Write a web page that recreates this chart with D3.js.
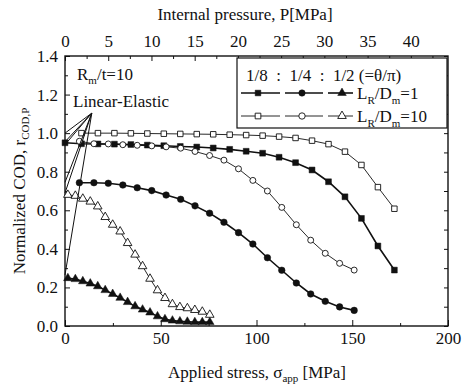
<!DOCTYPE html>
<html>
<head>
<meta charset="utf-8">
<script src="https://cdn.jsdelivr.net/npm/d3@7"></script>
<style>
  body { margin: 0; background: #fff; }
  text { font-family: "Liberation Serif", "Times New Roman", serif; fill: #111; }
</style>
</head>
<body>
<script>
// Chart data
//= ================================
let squareStress = [0, 8.6, 17.2, 25.8, 34.4, 43, 51.6, 60.2, 68.8, 77.4, 86, 94.6, 103.2, 111.8, 120.4, 129, 137.6, 146.2, 154.8, 163.4, 172];
let squareL1 = [0.95, 0.945, 0.944, 0.943, 0.941, 0.938, 0.935, 0.931, 0.928, 0.923, 0.916, 0.906, 0.896, 0.875, 0.847, 0.809, 0.748, 0.67, 0.558, 0.415, 0.29];
let squareStress10 = [8.6, 17.2, 25.8, 34.4, 43, 51.6, 60.2, 68.8, 77.4, 86, 94.6, 103.2, 111.8, 120.4, 129, 137.6, 146.2, 154.8, 163.4, 172];
let squareL10 = [1.0, 1.0, 1.0, 0.999, 0.998, 0.997, 0.996, 0.995, 0.994, 0.992, 0.99, 0.987, 0.982, 0.975, 0.961, 0.943, 0.904, 0.835, 0.72, 0.608];

let circleStress = [7.5, 15.1, 22.6, 30.2, 37.7, 45.3, 52.8, 60.4, 67.9, 75.5, 83, 90.6, 98.1, 105.7, 113.2, 120.8, 128.3, 135.9, 143.4, 151];
let circleL1 = [0.743, 0.743, 0.74, 0.731, 0.717, 0.702, 0.679, 0.657, 0.623, 0.585, 0.538, 0.484, 0.425, 0.354, 0.289, 0.223, 0.166, 0.128, 0.099, 0.081];
let circleL10 = [0.958, 0.945, 0.944, 0.94, 0.937, 0.934, 0.929, 0.922, 0.905, 0.884, 0.86, 0.815, 0.755, 0.7, 0.615, 0.525, 0.445, 0.377, 0.325, 0.29];

let triangleStress = [1.5, 5.4, 9.3, 13.2, 17.1, 21, 24.9, 28.8, 32.7, 36.6, 40.5, 44.4, 48.3, 52.2, 56.1, 60, 63.9, 67.8, 71.7, 75.6];
let triangleL1 = [0.248, 0.243, 0.232, 0.22, 0.206, 0.186, 0.166, 0.146, 0.124, 0.102, 0.085, 0.07, 0.05, 0.035, 0.028, 0.024, 0.022, 0.02, 0.02, 0.02];
let triangleL10 = [0.68, 0.675, 0.66, 0.645, 0.62, 0.565, 0.525, 0.49, 0.43, 0.37, 0.31, 0.245, 0.185, 0.145, 0.113, 0.098, 0.092, 0.083, 0.074, 0.058];

// linear-elastic values on the y axis, and where the pointer lines meet
let elasticValues = [1.0, 0.955, 0.94, 0.745, 0.69, 0.265];
let elasticNode = [14, 1.104];

let stressTicks = [0, 50, 100, 150, 200];
let pressureTicks = [0, 5, 10, 15, 20, 25, 30, 35, 40];
let codTicks = [0, 0.2, 0.4, 0.6, 0.8, 1.0, 1.2, 1.4];

// Set up our chart
//= ================================
let svgWidth = 463;
let svgHeight = 389;
let margin = { top: 56, right: 15, bottom: 63, left: 65 };
let width = svgWidth - margin.left - margin.right;
let height = svgHeight - margin.top - margin.bottom;

let svg = d3.select("body")
  .append("svg")
  .attr("width", svgWidth)
  .attr("height", svgHeight);
let chartGroup = svg.append("g")
  .attr("transform", `translate(${margin.left}, ${margin.top})`);

// Scales
//= ================================
let xScale = d3.scaleLinear().domain([0, 200]).range([0, width]);
let pScale = d3.scaleLinear().domain([0, 44.3]).range([0, width]);
let yScale = d3.scaleLinear().domain([0, 1.4]).range([height, 0]);

// Axes (ticks point inward)
//= ================================
function styleAxis(g) {
  g.select(".domain").remove();
  g.selectAll("line").attr("stroke", "#111").attr("stroke-width", 1);
  g.selectAll("text").attr("font-size", "17px").attr("fill", "#111");
}

chartGroup.append("g")
  .call(d3.axisLeft(yScale).tickValues(codTicks).tickSize(-5).tickPadding(7).tickFormat(d3.format(".1f")))
  .call(styleAxis);
chartGroup.append("g")
  .call(d3.axisLeft(yScale).tickValues(d3.range(0.1, 1.4, 0.2)).tickSize(-3).tickFormat(""))
  .call(styleAxis);
chartGroup.append("g")
  .attr("transform", `translate(${width}, 0)`)
  .call(d3.axisRight(yScale).tickValues(d3.range(0, 1.41, 0.1)).tickSize(-4).tickFormat(""))
  .call(styleAxis);

chartGroup.append("g")
  .attr("transform", `translate(0, ${height})`)
  .call(d3.axisBottom(xScale).tickValues(stressTicks).tickSize(-6).tickPadding(6))
  .call(styleAxis);
chartGroup.append("g")
  .attr("transform", `translate(0, ${height})`)
  .call(d3.axisBottom(xScale).tickValues([25, 75, 125, 175]).tickSize(-3).tickFormat(""))
  .call(styleAxis);

chartGroup.append("g")
  .call(d3.axisTop(pScale).tickValues(pressureTicks).tickSize(-5).tickPadding(9))
  .call(styleAxis);
chartGroup.append("g")
  .call(d3.axisTop(pScale).tickValues(d3.range(2.5, 44, 5)).tickSize(-3).tickFormat(""))
  .call(styleAxis);

chartGroup.append("rect")
  .attr("width", width)
  .attr("height", height)
  .attr("fill", "none")
  .attr("stroke", "#111")
  .attr("stroke-width", 1.4);

// Axis titles
//= ================================
let xTitle = svg.append("text")
  .attr("x", 257)
  .attr("y", 378)
  .attr("text-anchor", "middle")
  .attr("font-size", "17px");
xTitle.append("tspan").text("Applied stress, \u03c3");
xTitle.append("tspan").attr("font-size", "11px").attr("dy", 4).text("app");
xTitle.append("tspan").attr("dy", -4).text(" [MPa]");

svg.append("text")
  .attr("x", 245)
  .attr("y", 20)
  .attr("text-anchor", "middle")
  .attr("font-size", "17px")
  .text("Internal pressure, P[MPa]");

let yTitle = svg.append("text")
  .attr("transform", `translate(25, ${margin.top + height / 2}) rotate(-90)`)
  .attr("text-anchor", "middle")
  .attr("font-size", "17px");
yTitle.append("tspan").text("Normalized COD, r");
yTitle.append("tspan").attr("font-size", "11px").attr("dy", 4).text("COD,P");

// Series
//= ================================
let series = [
  { stress: squareStress, cod: squareL1, symbol: d3.symbolSquare, filled: true, size: 34 },
  { stress: squareStress10, cod: squareL10, symbol: d3.symbolSquare, filled: false, size: 30 },
  { stress: circleStress, cod: circleL1, symbol: d3.symbolCircle, filled: true, size: 34 },
  { stress: circleStress, cod: circleL10, symbol: d3.symbolCircle, filled: false, size: 28 },
  { stress: triangleStress, cod: triangleL1, symbol: d3.symbolTriangle, filled: true, size: 32 },
  { stress: triangleStress, cod: triangleL10, symbol: d3.symbolTriangle, filled: false, size: 32 }
];

let line = d3.line()
  .x(d => xScale(d[0]))
  .y(d => yScale(d[1]));

series.forEach(function(s) {
  let pts = s.stress.map((v, i) => [v, s.cod[i]]);
  chartGroup.append("path")
    .datum(pts)
    .attr("fill", "none")
    .attr("stroke", "#111")
    .attr("stroke-width", s.filled ? 1.6 : 0.9)
    .attr("d", line);
  chartGroup.append("g")
    .selectAll("path")
    .data(pts)
    .enter()
    .append("path")
    .attr("transform", d => `translate(${xScale(d[0])}, ${yScale(d[1])})`)
    .attr("d", d3.symbol().type(s.symbol).size(s.size))
    .attr("fill", s.filled ? "#111" : "#fff")
    .attr("stroke", "#111")
    .attr("stroke-width", s.filled ? 0.5 : 0.9);
});

// Linear-elastic pointers
//= ================================
elasticValues.forEach(function(v) {
  chartGroup.append("line")
    .attr("x1", xScale(elasticNode[0]))
    .attr("y1", yScale(elasticNode[1]))
    .attr("x2", xScale(0))
    .attr("y2", yScale(v))
    .attr("stroke", "#111")
    .attr("stroke-width", 1);
});

chartGroup.append("text")
  .attr("x", 8)
  .attr("y", 51)
  .attr("font-size", "17px")
  .text("Linear-Elastic");

let rmText = chartGroup.append("text")
  .attr("x", 12)
  .attr("y", 24)
  .attr("font-size", "17px");
rmText.append("tspan").text("R");
rmText.append("tspan").attr("font-size", "11px").attr("dy", 4).text("m");
rmText.append("tspan").attr("dy", -4).text("/t=10");

// Legend
//= ================================
let legend = svg.append("g");
legend.append("rect")
  .attr("x", 237)
  .attr("y", 58)
  .attr("width", 210)
  .attr("height", 70)
  .attr("fill", "#fff")
  .attr("stroke", "#111")
  .attr("stroke-width", 1.2);

legend.append("text")
  .attr("x", 246)
  .attr("y", 81)
  .attr("font-size", "17px")
  .attr("xml:space", "preserve")
  .text("1/8  :  1/4  :  1/2 (=\u03b8/\u03c0)");

let legendRows = [
  { y: 93, filled: true, label: "=1" },
  { y: 116, filled: false, label: "=10" }
];
let legendMarks = [
  { x: 258, symbol: d3.symbolSquare, from: 241, to: 280 },
  { x: 302, symbol: d3.symbolCircle, from: 285, to: 323 },
  { x: 342, symbol: d3.symbolTriangle, from: 328, to: 353 }
];

legendRows.forEach(function(r) {
  legendMarks.forEach(function(m) {
    legend.append("line")
      .attr("x1", m.from).attr("x2", m.to)
      .attr("y1", r.y).attr("y2", r.y)
      .attr("stroke", "#111")
      .attr("stroke-width", r.filled ? 1.6 : 0.9);
    legend.append("path")
      .attr("transform", `translate(${m.x}, ${r.y})`)
      .attr("d", d3.symbol().type(m.symbol).size(32))
      .attr("fill", r.filled ? "#111" : "#fff")
      .attr("stroke", "#111")
      .attr("stroke-width", r.filled ? 0.5 : 0.9);
  });
  let t = legend.append("text")
    .attr("x", 357)
    .attr("y", r.y + 6)
    .attr("font-size", "17px");
  t.append("tspan").text("L");
  t.append("tspan").attr("font-size", "11px").attr("dy", 5).text("R");
  t.append("tspan").attr("dy", -5).text("/D");
  t.append("tspan").attr("font-size", "11px").attr("dy", 5).text("m");
  t.append("tspan").attr("dy", -5).text(r.label);
});
</script>
</body>
</html>
